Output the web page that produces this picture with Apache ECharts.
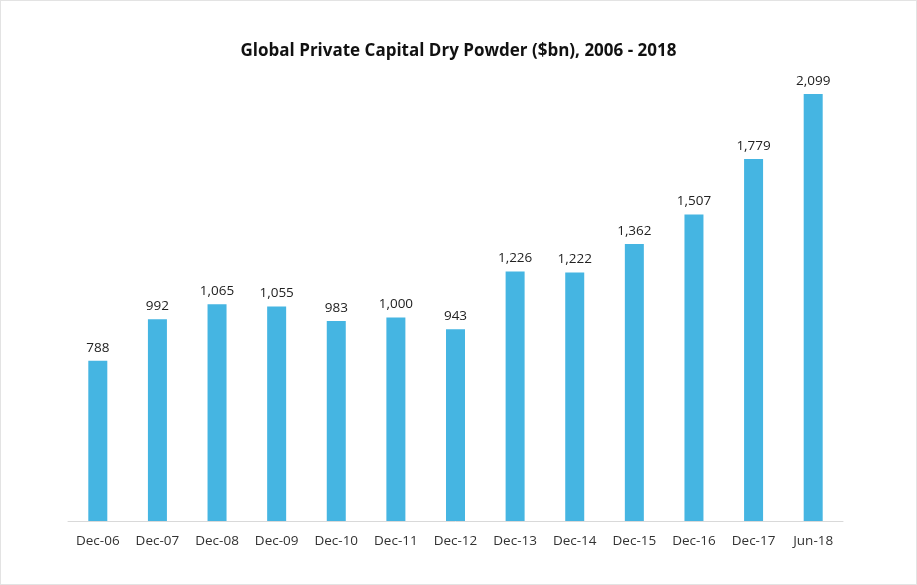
<!DOCTYPE html>
<html><head><meta charset="utf-8">
<script src="https://cdn.jsdelivr.net/npm/echarts@6/dist/echarts.min.js"></script>
<style>html,body{margin:0;padding:0;background:#fff;}
#c{width:915px;height:583px;border:1px solid #e3e3e3;}</style>
</head><body><div id="c"></div>
<script>
const categories = ["Dec-06","Dec-07","Dec-08","Dec-09","Dec-10","Dec-11","Dec-12","Dec-13","Dec-14","Dec-15","Dec-16","Dec-17","Jun-18"];
const values = [788,992,1065,1055,983,1000,943,1226,1222,1362,1507,1779,2099];
const titleText = "Global Private Capital Dry Powder ($bn), 2006 - 2018";
const chart = echarts.init(document.getElementById('c'), null, {renderer:'canvas'});
chart.setOption({
  animation:false,
  title:{text:titleText,left:'center',top:37,textStyle:{fontFamily:'Open Sans',fontWeight:'bold',fontSize:17,color:'#111'}},
  grid:{left:67,right:73,top:92.8,bottom:63},
  xAxis:{type:'category',data:categories,
    axisLine:{lineStyle:{color:'#d9d9d9',width:1}},axisTick:{show:false},
    axisLabel:{fontFamily:'Open Sans',fontSize:13.5,color:'#333',margin:13}},
  yAxis:{type:'value',min:0,max:2100,show:false,splitLine:{show:false}},
  series:[{type:'bar',data:values,barWidth:19,itemStyle:{color:'#45B5E2'},
    label:{show:true,position:'top',distance:6,fontFamily:'Open Sans',fontSize:13.5,color:'#222',
      formatter:p=>p.value.toLocaleString('en-US')}}]
});
</script></body></html>
